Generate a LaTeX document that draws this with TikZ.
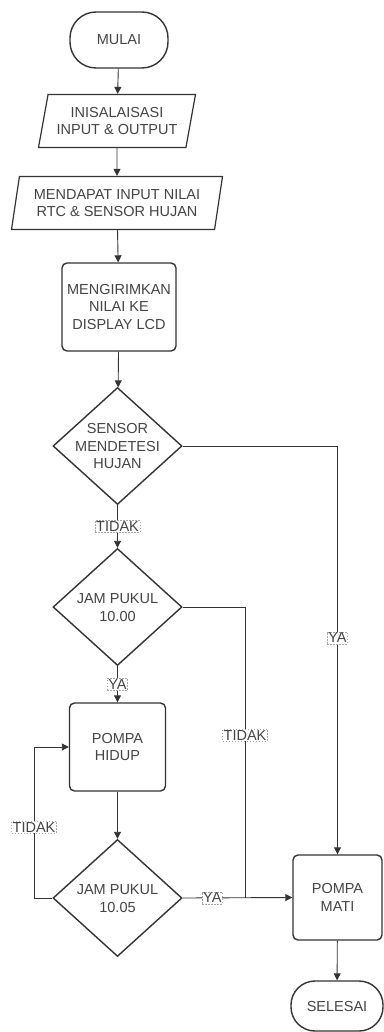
\documentclass[tikz,border=0pt]{standalone}
\usepackage{fontspec}
\setmainfont{Liberation Sans}
\usetikzlibrary{shapes.geometric,arrows.meta}
\definecolor{ln}{HTML}{333333}
\definecolor{tx}{HTML}{444444}
\newcommand\ctext[1]{\makebox[0pt]{\smash{\raisebox{-5.5pt}{\begin{tabular}{@{}c@{}}#1\end{tabular}}}}}
\begin{document}
\begin{tikzpicture}[x=1pt,y=-1pt,
  every node/.style={font=\fontsize{14.5}{17.5}\selectfont, text=tx, align=center},
  term/.style={draw=ln, line width=1.4, fill=white, rectangle, minimum width=98, minimum height=56, rounded corners=26},
  proc/.style={draw=ln, line width=1.4, fill=white, rectangle, rounded corners=5, inner sep=0},
  io/.style={draw=ln, line width=1.2, fill=white, trapezium, trapezium stretches body, inner xsep=0, inner ysep=0, minimum height=53},
  dec/.style={draw=ln, line width=1.4, fill=white, diamond, inner sep=0, minimum width=129, minimum height=117},
  arr/.style={draw=ln, line width=0.9, -{Triangle[length=7,width=7]}},
  ln/.style={draw=ln, line width=0.9},
  lbl/.style={fill=white, draw=gray!70, dash pattern=on 1.5pt off 1.5pt, line width=0.5, inner sep=1pt}
]
\useasboundingbox (0,0) rectangle (383,1032);

\node[term] (mulai) at (119,40) {MULAI};
\node[io, trapezium left angle=71, trapezium right angle=109, minimum width=157] (init) at (117,121) {INISALAISASI\\INPUT \& OUTPUT};
\node[io, trapezium left angle=74, trapezium right angle=106, minimum width=211] (input) at (117,203) {MENDAPAT INPUT NILAI\\RTC \& SENSOR HUJAN};
\node[proc, minimum width=114, minimum height=88] (lcd) at (119,307) {MENGIRIMKAN\\NILAI KE\\DISPLAY LCD};
\node[dec] (d1) at (117.5,446) {\ctext{SENSOR\\MENDETESI\\HUJAN}};
\node[dec] (d2) at (117.5,607) {\ctext{JAM PUKUL\\10.00}};
\node[proc, minimum width=96, minimum height=88] (hidup) at (117.5,747) {POMPA\\HIDUP};
\node[dec] (d3) at (117.5,898) {\ctext{JAM PUKUL\\10.05}};
\node[proc, minimum width=89, minimum height=85] (mati) at (337.5,897.5) {POMPA\\MATI};
\node[term, minimum width=92, minimum height=50, rounded corners=24] (selesai) at (337,1006) {SELESAI};

\coordinate (lp) at (34,898);
\coordinate (j1) at (245,607);
\coordinate (j2) at (245,898);

\draw[arr] (mulai) -- (init);
\draw[arr] (init) -- (input);
\draw[arr] (input) -- (lcd);
\draw[arr] (lcd) -- (d1);
\draw[arr] (d1) -- node[lbl]{TIDAK} (d2);
\draw[arr] (d2) -- node[lbl]{YA} (hidup);
\draw[arr] (hidup) -- (d3);
\draw[arr] (d3.west) -- (lp) -- node[lbl, pos=0.47]{TIDAK} (lp |- hidup.west) -- (hidup.west);
\draw[arr] (d3.east) -- node[lbl, pos=0.27]{YA} (mati.west);
\draw[ln] (d2.east) -- (j1) -- node[lbl, pos=0.44]{TIDAK} (j2);
\draw[arr] (d1.east) -| node[lbl, pos=0.735]{YA} (mati.north);
\draw[arr] (mati) -- (selesai);
\end{tikzpicture}
\end{document}
